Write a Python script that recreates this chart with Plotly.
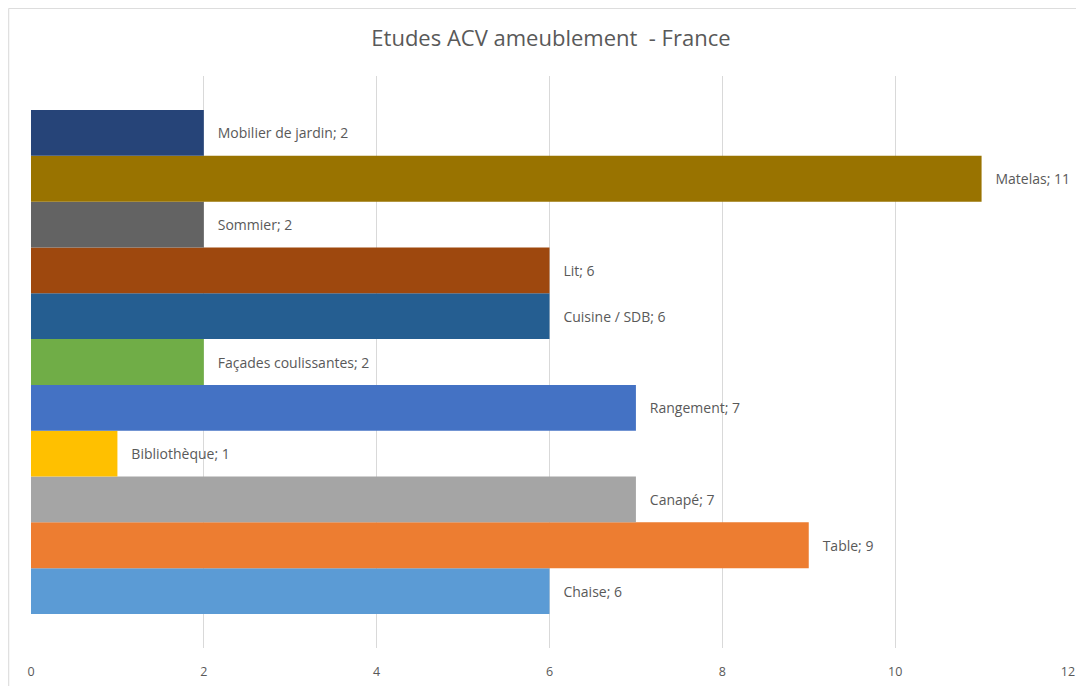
import plotly.graph_objects as go

categories = ["Chaise", "Table", "Canapé", "Bibliothèque", "Rangement",
              "Façades coulissantes", "Cuisine / SDB", "Lit", "Sommier",
              "Matelas", "Mobilier de jardin"]
values = [6, 9, 7, 1, 7, 2, 6, 6, 2, 11, 2]
colors = ["#5B9BD5", "#ED7D31", "#A5A5A5", "#FFC000", "#4472C4", "#70AD47",
          "#255E91", "#9E480E", "#636363", "#997300", "#264478"]
tick_vals = [0, 2, 4, 6, 8, 10, 12]

fig = go.Figure()
for name, v, c in zip(categories, values, colors):
    fig.add_trace(go.Bar(
        y=[""], x=[v], name=name, orientation="h",
        marker=dict(color=c, line=dict(width=0)),
        text=[f"\u00a0\u00a0\u00a0{name}; {v}"], textposition="outside",
        textfont=dict(family="Open Sans", size=14, color="#595959"),
        cliponaxis=False,
    ))

fig.update_layout(
    width=1076, height=678,
    margin=dict(l=23, r=16, t=68, b=38, autoexpand=False),
    paper_bgcolor="white", plot_bgcolor="white",
    barmode="group", bargap=0.119, bargroupgap=0,
    showlegend=False,
    title=dict(text="Etudes ACV ameublement  - France", x=0.5046, xanchor="center",
               y=0.9558, yanchor="middle",
               font=dict(family="Open Sans", size=22, color="#595959")),
    xaxis=dict(range=[0, 12], tickvals=tick_vals, showgrid=True,
               gridcolor="#D9D9D9", gridwidth=1, zeroline=False,
               showline=False, ticks="", ticklabelstandoff=14, automargin=False,
               tickfont=dict(family="Open Sans", size=12.5, color="#595959")),
    yaxis=dict(showticklabels=False, showgrid=False, zeroline=False,
               showline=False, ticks="", automargin=False),
    shapes=[
        dict(type="line", xref="paper", yref="paper",
             x0=-0.0215, x1=1.05, y0=1.1182, y1=1.1182,
             line=dict(color="#D9D9D9", width=1), layer="below"),
        dict(type="line", xref="paper", yref="paper",
             x0=-0.0215, x1=-0.0215, y0=-0.08, y1=1.1182,
             line=dict(color="#D9D9D9", width=1), layer="below"),
    ],
)

fig.write_html("out.html")
